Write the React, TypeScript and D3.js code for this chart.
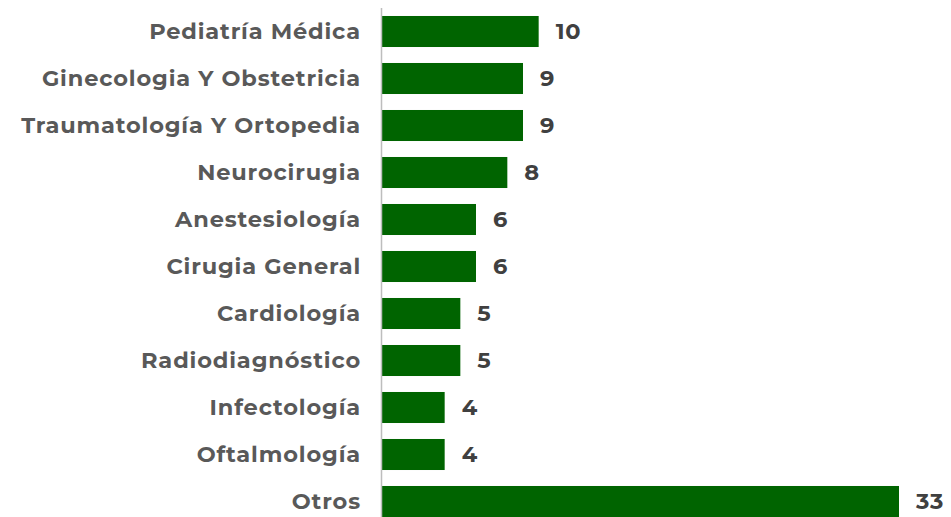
import React, { useEffect, useRef } from "react";
import * as d3 from "d3";

const categories = [
  "Pediatría Médica",
  "Ginecologia Y Obstetricia",
  "Traumatología Y Ortopedia",
  "Neurocirugia",
  "Anestesiología",
  "Cirugia General",
  "Cardiología",
  "Radiodiagnóstico",
  "Infectología",
  "Oftalmología",
  "Otros",
];
const values = [10, 9, 9, 8, 6, 6, 5, 5, 4, 4, 33];

export default function App() {
  const ref = useRef(null);

  useEffect(() => {
    const height = 517;
    const svg = d3.select(ref.current);
    svg.selectAll("*").remove();

    const data = categories.map((name, i) => ({ name, value: values[i] }));

    const x = d3.scaleLinear().domain([0, 33]).range([382, 899]);
    const y = d3
      .scaleBand()
      .domain(categories)
      .range([8, 525])
      .paddingInner(0.34)
      .paddingOuter(0.17);

    const font = "Montserrat, 'Open Sans', sans-serif";

    svg
      .selectAll(".bar")
      .data(data)
      .enter()
      .append("rect")
      .attr("class", "bar")
      .attr("x", x(0))
      .attr("y", (d) => y(d.name))
      .attr("width", (d) => x(d.value) - x(0))
      .attr("height", y.bandwidth())
      .attr("fill", "#006400");

    // axis line
    svg
      .append("line")
      .attr("x1", 381.5)
      .attr("x2", 381.5)
      .attr("y1", 8)
      .attr("y2", height)
      .attr("stroke", "#bdbdbd")
      .attr("stroke-width", 1.5);

    svg
      .selectAll(".cat")
      .data(data)
      .enter()
      .append("text")
      .attr("class", "cat")
      .attr("x", 361)
      .attr("y", (d) => y(d.name) + y.bandwidth() / 2)
      .attr("dy", "0.33em")
      .attr("text-anchor", "end")
      .attr("font-family", font)
      .attr("font-weight", 700)
      .attr("font-size", 22.5)
      .attr("letter-spacing", 0.85)
      .attr("fill", "#595959")
      .text((d) => d.name);

    svg
      .selectAll(".val")
      .data(data)
      .enter()
      .append("text")
      .attr("class", "val")
      .attr("x", (d) => x(d.value) + 17)
      .attr("y", (d) => y(d.name) + y.bandwidth() / 2)
      .attr("dy", "0.33em")
      .attr("font-family", font)
      .attr("font-weight", 700)
      .attr("font-size", 22.5)
      .attr("letter-spacing", 0.85)
      .attr("fill", "#404040")
      .text((d) => d.value);
  }, []);

  return (
    <svg
      ref={ref}
      width={951}
      height={517}
      style={{ position: "absolute", left: 0, top: 0, background: "#fff" }}
    />
  );
}
